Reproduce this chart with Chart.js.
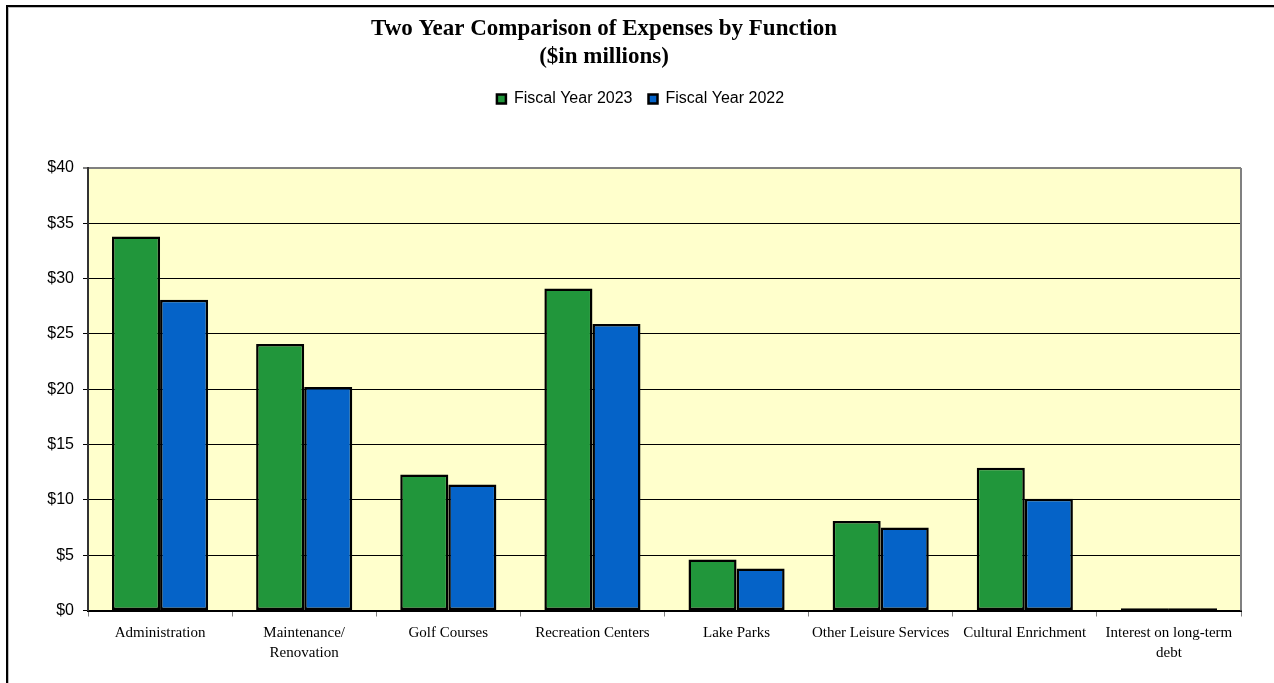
<!DOCTYPE html>
<html>
<head>
<meta charset="utf-8">
<title>Two Year Comparison of Expenses by Function</title>
<script src="https://cdn.jsdelivr.net/npm/chart.js@4.4.1/dist/chart.umd.min.js"></script>
<style>
  html, body { margin: 0; padding: 0; background: #fff; }
  #wrap { position: relative; width: 1274px; height: 683px; overflow: hidden; }
  #frame {
    position: absolute; left: 6px; top: 5px; right: -10px; bottom: -10px;
    border-top: 2px solid #000; border-left: 2px solid #000;
    box-shadow: inset 1px 1px 0 #bdbdbd;
    pointer-events: none;
  }
  canvas { position: absolute; left: 0; top: 0; }
</style>
</head>
<body>
<div id="wrap">
  <canvas id="myChart" width="1274" height="683"></canvas>
  <div id="frame"></div>
</div>
<script>
// expenses by function, $ millions
const categories = [
    ['Administration'],
    ['Maintenance/', 'Renovation'],
    ['Golf Courses'],
    ['Recreation Centers'],
    ['Lake Parks'],
    ['Other Leisure Services'],
    ['Cultural Enrichment'],
    ['Interest on long-term', 'debt']
];
const fy2023 = [33.8, 24.1, 12.3, 29.1, 4.6, 8.1, 12.9, 0.2];
const fy2022 = [28.1, 20.2, 11.4, 25.9, 3.8, 7.5, 10.1, 0.2];
const yTicks = [0, 5, 10, 15, 20, 25, 30, 35, 40];
const titleLines = ['Two Year Comparison of Expenses by Function', '($in millions)'];

const SANS = '"Liberation Sans", Arial, sans-serif';
const SERIF = '"Liberation Serif", "Times New Roman", serif';

// pale yellow plot background and grey frame on the right
const plotArea = {
    id: 'plotArea',
    beforeDraw(chart) {
        const { ctx, chartArea: a } = chart;
        ctx.save();
        ctx.fillStyle = '#FFFFCC';
        ctx.fillRect(a.left, a.top, a.right - a.left, a.bottom - a.top);
        ctx.restore();
    },
    afterDraw(chart) {
        const { ctx, chartArea: a } = chart;
        ctx.save();
        ctx.strokeStyle = '#808080';
        ctx.lineWidth = 2;
        ctx.beginPath();
        ctx.moveTo(a.right, a.top);
        ctx.lineTo(a.right, a.bottom);
        ctx.stroke();
        ctx.restore();
    }
};

// two-line heading above the legend
const heading = {
    id: 'heading',
    afterDraw(chart) {
        const ctx = chart.ctx;
        ctx.save();
        ctx.font = 'bold 23px ' + SERIF;
        ctx.fillStyle = '#000';
        ctx.textAlign = 'center';
        ctx.textBaseline = 'middle';
        titleLines.forEach((t, i) => ctx.fillText(t, 604, 29 + i * 28));
        ctx.restore();
    }
};

// leave some room between legend and plot
const legendGap = {
    id: 'legendGap',
    afterInit(chart) {
        const lg = chart.legend;
        const fit = lg.fit;
        lg.fit = function () {
            fit.call(this);
            this.height += 51;
        };
    }
};

const ctx = document.getElementById('myChart').getContext('2d');
new Chart(ctx, {
    type: 'bar',
    data: {
        labels: categories,
        datasets: [{
            label: 'Fiscal Year 2023',
            data: fy2023,
            backgroundColor: '#21963B',
            borderColor: '#000',
            borderWidth: 2.5,
            borderSkipped: false,
            categoryPercentage: 0.667,
            barPercentage: 1.0
        }, {
            label: 'Fiscal Year 2022',
            data: fy2022,
            backgroundColor: '#0563C8',
            borderColor: '#000',
            borderWidth: 2.5,
            borderSkipped: false,
            categoryPercentage: 0.667,
            barPercentage: 1.0
        }]
    },
    options: {
        responsive: false,
        animation: false,
        layout: { padding: { left: 40, right: 33, top: 75, bottom: 14 } },
        plugins: {
            title: { display: false },
            tooltip: { enabled: false },
            legend: {
                position: 'top',
                labels: {
                    boxWidth: 9,
                    boxHeight: 9,
                    padding: 16,
                    color: '#000',
                    font: { family: SANS, size: 16 }
                }
            }
        },
        scales: {
            x: {
                grid: {
                    display: true,
                    drawOnChartArea: false,
                    drawTicks: true,
                    tickLength: 6,
                    color: '#808080'
                },
                border: { color: '#000', width: 2 },
                ticks: {
                    color: '#000',
                    font: { family: SERIF, size: 15, lineHeight: 1.35 },
                    maxRotation: 0,
                    autoSkip: false,
                    padding: 6
                }
            },
            y: {
                min: 0,
                max: 40,
                afterFit(scale) { scale.width = 48; },
                afterBuildTicks(scale) { scale.ticks = yTicks.map(v => ({ value: v })); },
                grid: {
                    color: c => (c.tick && c.tick.value === 40 ? '#808080' : '#000'),
                    lineWidth: c => (c.tick && c.tick.value === 40 ? 2 : 1),
                    tickLength: 5
                },
                border: { color: '#333', width: 2 },
                ticks: {
                    color: '#000',
                    font: { family: SANS, size: 16 },
                    padding: 9,
                    callback: v => '$' + v
                }
            }
        }
    },
    plugins: [plotArea, heading, legendGap]
});
</script>
</body>
</html>
